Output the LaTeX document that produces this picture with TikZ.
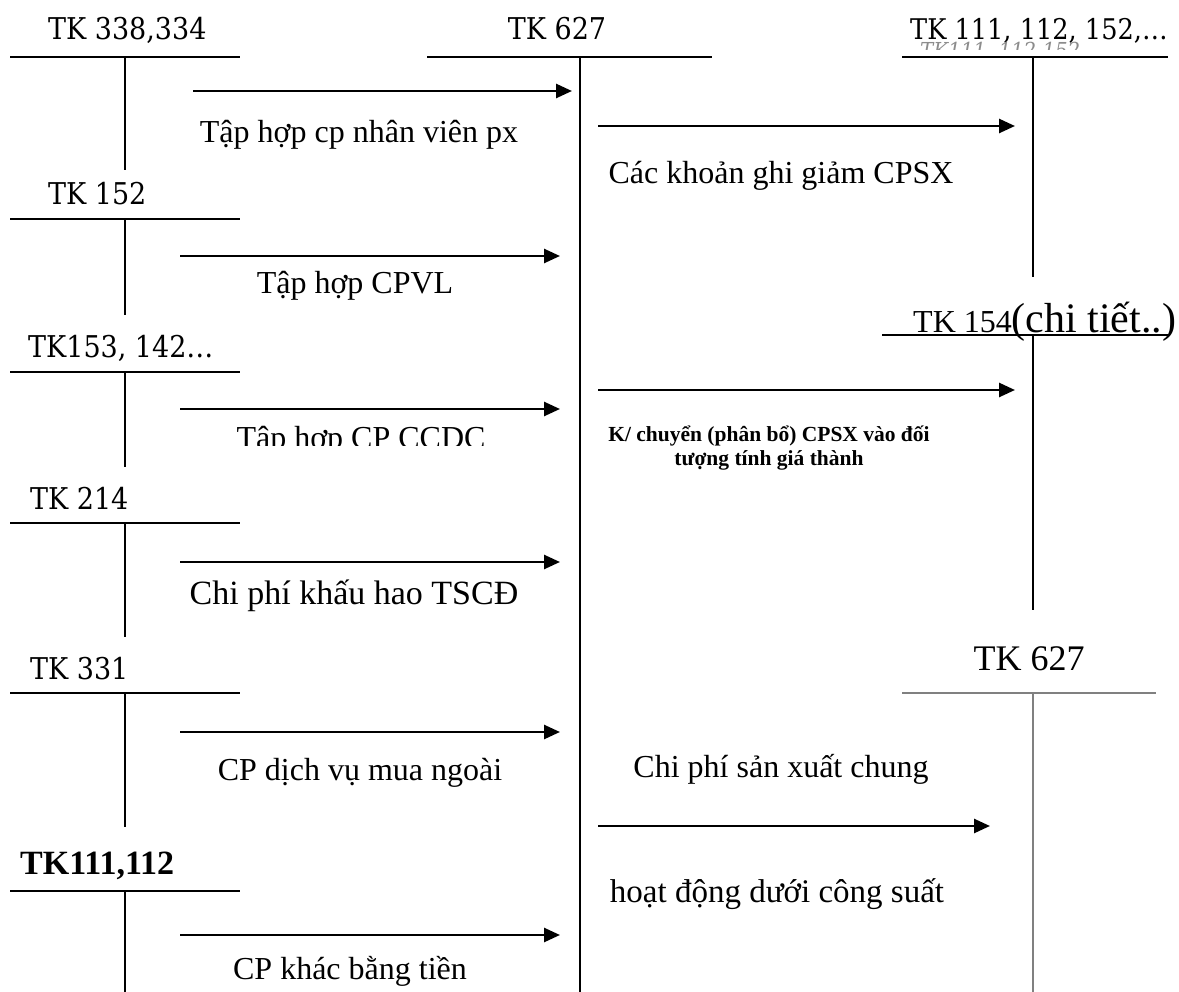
\documentclass[tikz,border=0pt]{standalone}
\usepackage{fontspec}
\setmainfont{Liberation Serif}
\newfontfamily\acctfont{DejaVu Serif Condensed}
\usetikzlibrary{arrows.meta}

\begin{document}
\begin{tikzpicture}[x=1pt,y=-1pt,
  tline/.style={line width=1.6pt},
  gline/.style={line width=1.4pt,draw=black!50},
  flow/.style={line width=2.6pt,-{Triangle[length=16pt,width=14pt]}},
  acct/.style={inner sep=0pt,anchor=base west,font=\acctfont\fontsize{30}{36}\selectfont},
  lbl/.style={inner sep=0pt,anchor=base,font=\fontsize{32}{38}\selectfont},
  small/.style={inner sep=0pt,anchor=base,font=\bfseries\fontsize{21.5}{24}\selectfont},
]
\useasboundingbox (0,0) rectangle (1179,992);

% ---- left column of T-accounts ----
\node[acct] (a1) at (48,40) {TK 338,334};
\draw[tline] (10,57) -- (240,57);
\draw[tline] (125,57) -- (125,170);

\node[acct] (a2) at (48,205) {TK 152};
\draw[tline] (10,219) -- (240,219);
\draw[tline] (125,219) -- (125,315);

\node[acct] (a3) at (28,358) {TK153, 142…};
\draw[tline] (10,372) -- (240,372);
\draw[tline] (125,372) -- (125,467);

\node[acct] (a4) at (30,509) {TK 214};
\draw[tline] (10,523) -- (240,523);
\draw[tline] (125,523) -- (125,637);

\node[acct] (a5) at (30,679) {TK 331};
\draw[tline] (10,693) -- (240,693);
\draw[tline] (125,693) -- (125,827);

\node[inner sep=0pt,anchor=base west,font=\bfseries\fontsize{34}{40}\selectfont] (a6) at (20,874) {TK111,112};
\draw[tline] (10,891) -- (240,891);
\draw[tline] (125,891) -- (125,992);

% ---- central account TK 627 ----
\node[acct,anchor=base] (m) at (557,40) {TK 627};
\draw[tline] (427,57) -- (712,57);
\draw[tline] (580,57) -- (580,992);

% ---- right accounts ----
\node[acct,font=\acctfont\fontsize{28.5}{34}\selectfont] (r1) at (910,40) {TK 111, 112, 152,…};
\begin{scope}
  \clip (900,41) rectangle (1100,50);
  \node[inner sep=0pt,anchor=base west,text=black!45,font=\acctfont\itshape\fontsize{22}{26}\selectfont] (r1g) at (920,59) {TK111, 112,152};
\end{scope}
\draw[tline] (902,57) -- (1168,57);
\draw[tline] (1033,57) -- (1033,277);

\node[inner sep=0pt,anchor=base west] (r2) at (913,333)
  {{\fontsize{32}{38}\selectfont TK 154}{\fontsize{42}{48}\selectfont(chi tiết..)}};
\draw[tline] (882,335) -- (1168,335);
\draw[tline] (1033,335) -- (1033,610);

\node[inner sep=0pt,anchor=base,font=\fontsize{36}{42}\selectfont] (r3) at (1029,670) {TK 627};
\draw[gline] (902,693) -- (1156,693);
\draw[gline] (1033,693) -- (1033,992);

% ---- flows into TK 627 ----
\coordinate (s1) at (193,91);  \coordinate (e1) at (572,91);
\coordinate (s2) at (180,256); \coordinate (e2) at (560,256);
\coordinate (s3) at (180,409); \coordinate (e3) at (560,409);
\coordinate (s4) at (180,562); \coordinate (e4) at (560,562);
\coordinate (s5) at (180,732); \coordinate (e5) at (560,732);
\coordinate (s6) at (180,935); \coordinate (e6) at (560,935);
\draw[flow] (s1) -- (e1);
\draw[flow] (s2) -- (e2);
\draw[flow] (s3) -- (e3);
\draw[flow] (s4) -- (e4);
\draw[flow] (s5) -- (e5);
\draw[flow] (s6) -- (e6);

\node[lbl] (l1) at (359,143) {Tập hợp cp nhân viên px};
\node[lbl] (l2) at (355,294) {Tập hợp CPVL};
\begin{scope}
  \clip (200,400) rectangle (540,446);
  \node[lbl] (l3) at (361,449) {Tập hợp CP CCDC};
\end{scope}
\node[lbl,font=\fontsize{34}{40}\selectfont] (l4) at (354,604) {Chi phí khấu hao TSCĐ};
\node[lbl] (l5) at (360,780) {CP dịch vụ mua ngoài};
\node[lbl] (l6) at (350,979) {CP khác bằng tiền};

% ---- flows out of TK 627 ----
\coordinate (o1s) at (598,126); \coordinate (o1e) at (1015,126);
\coordinate (o2s) at (598,390); \coordinate (o2e) at (1015,390);
\coordinate (o3s) at (598,826); \coordinate (o3e) at (990,826);
\draw[flow] (o1s) -- (o1e);
\draw[flow] (o2s) -- (o2e);
\draw[flow] (o3s) -- (o3e);

\node[lbl] (k1) at (781,184) {Các khoản ghi giảm CPSX};
\node[small] (k2a) at (769,442) {K/ chuyển (phân bổ) CPSX vào đối};
\node[small] (k2b) at (769,465) {tượng tính giá thành};
\node[lbl] (k3a) at (781,777) {Chi phí sản xuất chung};
\node[lbl,font=\fontsize{33}{39}\selectfont] (k3b) at (777,902) {hoạt động dưới công suất};
\end{tikzpicture}
\end{document}
